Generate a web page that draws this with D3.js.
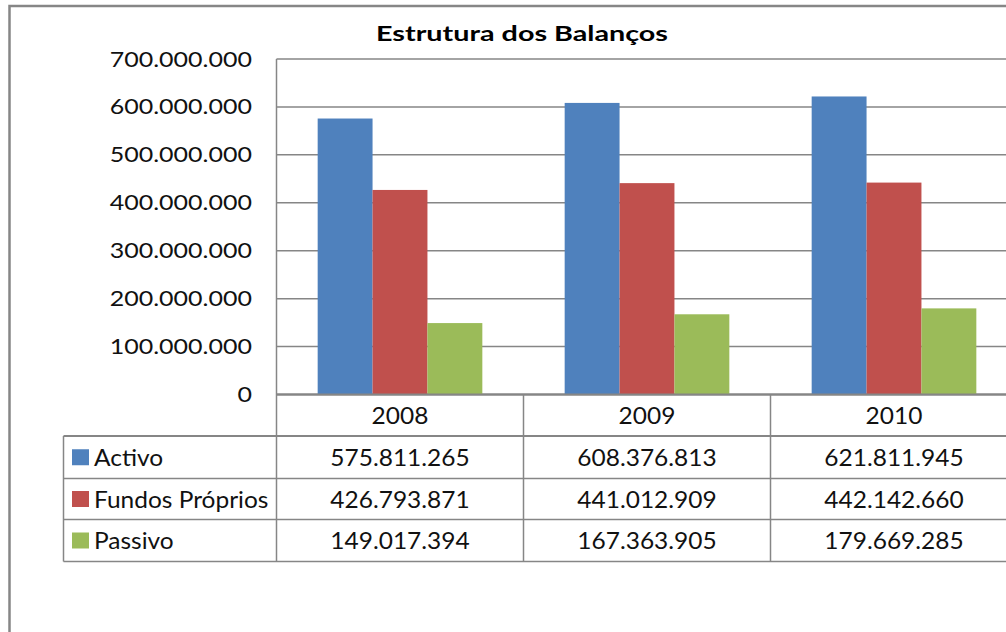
<!DOCTYPE html>
<html>
<head>
<meta charset="utf-8">
<script src="https://cdn.jsdelivr.net/npm/d3@7"></script>
<style>
  body { margin: 0; background: #fff; }
  svg { display: block; font-family: "Lato", "Carlito", Calibri, sans-serif; }
</style>
</head>
<body>
<div id="chart"></div>
<script>
var years = ["2008", "2009", "2010"];
var seriesNames = ["Activo", "Fundos Próprios", "Passivo"];
var activo = [575811265, 608376813, 621811945];
var fundosProprios = [426793871, 441012909, 442142660];
var passivo = [149017394, 167363905, 179669285];
var yTicks = [0, 100000000, 200000000, 300000000, 400000000, 500000000, 600000000, 700000000];
var colors = ["#4F81BD", "#C0504D", "#9BBB59"];

var seriesValues = [activo, fundosProprios, passivo];

var width = 1006, height = 632;
var plot = {left: 276.5, top: 59, bottom: 394.5, right: 1017.5};
var rowEdges = [394.5, 436, 478.5, 519.5, 561.5]; // header + 3 rows
var tableLeft = 63.5;
var gridColor = "#868686";

// thousands with dots, like the original
var fmt = function (v) {
    return d3.format(",")(v).replace(/,/g, ".");
};

// the original picture is a bit wider than the font, stretch text to match
function stretch(sel, f) {
    sel.each(function () {
        var w = this.getComputedTextLength();
        d3.select(this)
            .attr("textLength", w * f)
            .attr("lengthAdjust", "spacingAndGlyphs");
    });
}

var svg = d3.select("#chart").append("svg")
    .attr("width", width)
    .attr("height", height);

svg.append("rect")
    .attr("width", width).attr("height", height)
    .attr("fill", "#fff");

// chart border (runs off the right and bottom)
svg.append("rect")
    .attr("x", 9.5).attr("y", 6)
    .attr("width", 1100).attr("height", 700)
    .attr("fill", "none")
    .attr("stroke", gridColor)
    .attr("stroke-width", 2.5);

svg.append("text")
    .attr("x", 522)
    .attr("y", 41)
    .attr("text-anchor", "middle")
    .attr("textLength", 292)
    .attr("lengthAdjust", "spacingAndGlyphs")
    .style("font-size", "21px")
    .style("font-weight", "bold")
    .text("Estrutura dos Balanços");

var x0 = d3.scaleBand()
    .domain(years)
    .range([plot.left, plot.right]);

var x1 = d3.scaleBand()
    .domain(seriesNames)
    .range([0, x0.bandwidth()])
    .paddingInner(0)
    .paddingOuter(0.75);

var y = d3.scaleLinear()
    .domain([0, 700000000])
    .range([plot.bottom, plot.top]);

// gridlines
svg.append("g")
    .selectAll("line")
    .data(yTicks)
    .enter()
    .append("line")
    .attr("x1", plot.left).attr("x2", width)
    .attr("y1", function (d) { return y(d); })
    .attr("y2", function (d) { return y(d); })
    .attr("stroke", gridColor)
    .attr("stroke-width", function (d) { return d === 0 ? 2 : 1.5; });

// y tick labels
svg.append("g")
    .selectAll("text")
    .data(yTicks)
    .enter()
    .append("text")
    .attr("x", 252)
    .attr("y", function (d) { return y(d) + 7.5; })
    .attr("text-anchor", "end")
    .style("font-size", "21px")
    .style("fill", "#111")
    .text(function (d) { return fmt(d); })
    .call(stretch, 1.19);

// bars
var groups = svg.append("g")
    .selectAll("g")
    .data(years)
    .enter()
    .append("g")
    .attr("transform", function (d) { return "translate(" + x0(d) + ",0)"; });

groups.selectAll("rect")
    .data(function (d, i) {
        return seriesNames.map(function (s, j) {
            return {name: s, value: seriesValues[j][i], color: colors[j]};
        });
    })
    .enter()
    .append("rect")
    .attr("x", function (d) { return x1(d.name); })
    .attr("y", function (d) { return y(d.value); })
    .attr("width", x1.bandwidth())
    .attr("height", function (d) { return plot.bottom - y(d.value); })
    .attr("fill", function (d) { return d.color; });

// axis line on top of the bars
svg.append("line")
    .attr("x1", plot.left).attr("x2", width)
    .attr("y1", plot.bottom).attr("y2", plot.bottom)
    .attr("stroke", gridColor)
    .attr("stroke-width", 2);

// data table
var table = svg.append("g");

table.append("line")
    .attr("x1", plot.left).attr("x2", plot.left)
    .attr("y1", plot.top).attr("y2", rowEdges[4])
    .attr("stroke", gridColor).attr("stroke-width", 1.5);

years.forEach(function (yr, i) {
    if (i === 0) return;
    table.append("line")
        .attr("x1", x0(yr)).attr("x2", x0(yr))
        .attr("y1", rowEdges[0]).attr("y2", rowEdges[4])
        .attr("stroke", gridColor).attr("stroke-width", 1.5);
});

table.append("line")
    .attr("x1", tableLeft).attr("x2", tableLeft)
    .attr("y1", rowEdges[1]).attr("y2", rowEdges[4])
    .attr("stroke", gridColor).attr("stroke-width", 1.5);

rowEdges.slice(1).forEach(function (ry, i) {
    table.append("line")
        .attr("x1", tableLeft).attr("x2", width)
        .attr("y1", ry).attr("y2", ry)
        .attr("stroke", gridColor)
        .attr("stroke-width", i === 0 ? 2 : 1.5);
});

// header row: years
table.selectAll(".yr")
    .data(years)
    .enter()
    .append("text")
    .attr("class", "yr")
    .attr("x", function (d) { return x0(d) + x0.bandwidth() / 2; })
    .attr("y", (rowEdges[0] + rowEdges[1]) / 2 + 8.5)
    .attr("text-anchor", "middle")
    .style("font-size", "24px")
    .style("fill", "#111")
    .text(function (d) { return d; })
    .call(stretch, 1.02);

seriesNames.forEach(function (s, j) {
    var cy = (rowEdges[j + 1] + rowEdges[j + 2]) / 2;
    table.append("rect")
        .attr("x", 72).attr("y", cy - 8)
        .attr("width", 17).attr("height", 16)
        .attr("fill", colors[j]);
    table.append("text")
        .attr("x", 94)
        .attr("y", cy + 8.5)
        .style("font-size", "24px")
        .style("fill", "#111")
        .text(s)
        .call(stretch, 1.02);
    years.forEach(function (yr, i) {
        table.append("text")
            .attr("x", x0(yr) + x0.bandwidth() / 2)
            .attr("y", cy + 8.5)
            .attr("text-anchor", "middle")
            .style("font-size", "24px")
            .style("fill", "#111")
            .text(fmt(seriesValues[j][i]))
            .call(stretch, 1.02);
    });
});
</script>
</body>
</html>
